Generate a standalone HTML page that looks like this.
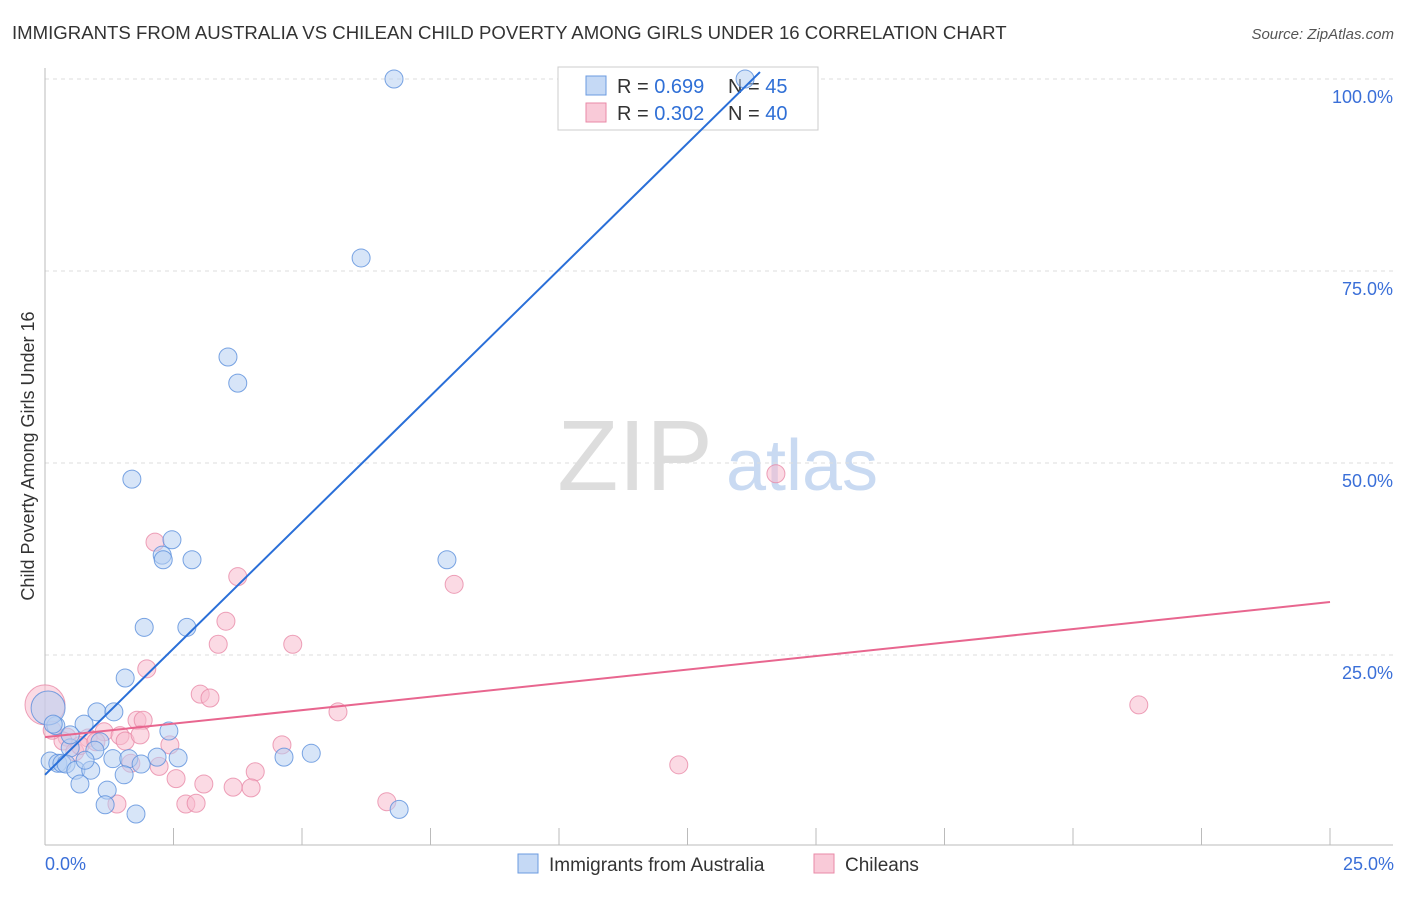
<!DOCTYPE html>
<html><head><meta charset="utf-8"><style>
body{margin:0;background:#fff;font-family:"Liberation Sans",sans-serif}
svg text{font-family:"Liberation Sans",sans-serif}
</style></head><body>
<svg width="1406" height="892" xmlns="http://www.w3.org/2000/svg">
<text x="12" y="39" font-size="18.6" fill="#333">IMMIGRANTS FROM AUSTRALIA VS CHILEAN CHILD POVERTY AMONG GIRLS UNDER 16 CORRELATION CHART</text>
<text x="1394" y="39" font-size="15" fill="#555" font-style="italic" text-anchor="end">Source: ZipAtlas.com</text>
<g>
<text x="635" y="490" font-size="100" font-family="Liberation Serif" fill="#ddd" text-anchor="middle">ZIP</text>
<text x="802" y="490" font-size="72" fill="#c9daf2" text-anchor="middle">atlas</text>
</g>
<g id="grid"></g>
<g id="axes"></g>
<g>
<rect x="558" y="67" width="260" height="63" fill="#fff" stroke="#ccc"/>
<rect x="586" y="76" width="20" height="19" fill="#c5d9f5" stroke="#6b9be0"/>
<rect x="586" y="103" width="20" height="19" fill="#f9cad8" stroke="#e98aa7"/>
<text x="617" y="93" font-size="20" fill="#333">R = <tspan fill="#2f6fd6">0.699</tspan></text>
<text x="728" y="93" font-size="20" fill="#333">N = <tspan fill="#2f6fd6">45</tspan></text>
<text x="617" y="120" font-size="20" fill="#333">R = <tspan fill="#2f6fd6">0.302</tspan></text>
<text x="728" y="120" font-size="20" fill="#333">N = <tspan fill="#2f6fd6">40</tspan></text>
</g>
<g id="marks"></g>
<text transform="translate(34,456) rotate(-90)" font-size="18" fill="#333" text-anchor="middle">Child Poverty Among Girls Under 16</text>
<text x="45" y="870" font-size="18" fill="#3a6fd8">0.0%</text>
<text x="1394" y="870" font-size="18" fill="#3a6fd8" text-anchor="end">25.0%</text>
<g>
<rect x="518" y="854" width="20" height="19" fill="#c5d9f5" stroke="#6b9be0"/>
<text x="549" y="871" font-size="19" fill="#333">Immigrants from Australia</text>
<rect x="814" y="854" width="20" height="19" fill="#f9cad8" stroke="#e98aa7"/>
<text x="845" y="871" font-size="19" fill="#333">Chileans</text>
</g>
</svg>
<script>
const blueX=[6.79,6.15,3.56,3.75,1.69,2.47,2.28,2.30,2.86,7.82,1.93,2.76,1.56,1.01,1.34,2.41,0.76,0.21,1.07,0.49,1.32,1.63,2.18,2.59,1.87,0.10,0.25,0.33,0.41,0.60,0.89,1.54,0.68,1.21,1.17,1.77,4.65,5.18,6.89,13.62,0.06,0.16,0.97,0.78,0.49];
const blueY=[100,76.7,63.8,60.4,47.9,40.0,38.0,37.4,37.4,37.4,28.6,28.6,22.0,17.6,17.6,15.1,16.0,15.8,13.7,12.9,11.5,11.5,11.7,11.6,10.8,11.2,10.9,10.9,10.8,10.0,10.0,9.4,8.2,7.4,5.5,4.3,11.7,12.2,4.9,100,18.1,16.0,12.6,11.3,14.6];
const blueR=[9,9,9,9,9,9,9,9,9,9,9,9,9,9,9,9,9,9,9,9,9,9,9,9,9,9,9,9,9,9,9,9,9,9,9,9,9,9,9,9,17,9,9,9,9];
const pinkX=[2.14,3.75,7.96,14.22,3.52,3.37,4.82,1.98,3.02,3.21,5.70,21.28,1.79,1.91,1.15,1.46,0.43,0.84,0.35,1.56,2.43,4.61,0.58,1.67,2.22,4.09,2.55,3.09,3.66,4.01,2.74,2.94,1.40,6.65,12.33,0,0.14,0.68,0.99,1.85];
const pinkY=[39.7,35.2,34.2,48.6,29.4,26.4,26.4,23.2,19.9,19.4,17.6,18.5,16.5,16.5,15.0,14.5,14.3,14.2,13.8,13.8,13.3,13.3,12.4,10.9,10.5,9.8,8.9,8.2,7.8,7.7,5.6,5.7,5.6,5.9,10.7,18.5,15.2,13.2,13.7,14.6];
const pinkR=[9,9,9,9,9,9,9,9,9,9,9,9,9,9,9,9,9,9,9,9,9,9,9,9,9,9,9,9,9,9,9,9,9,9,9,20,9,9,9,9];
const blueTrend=[[0,9.4],[13.91,100.9]];
const pinkTrend=[[0,14.3],[25,31.9]];
const yTicks=[25,50,75,100];
const yTickLabels=["25.0%","50.0%","75.0%","100.0%"];
const xTicks=[2.5,5,7.5,10,12.5,15,17.5,20,22.5,25];
const X=v=>45+v*51.4, Y=v=>847-v*7.68;
const NS="http://www.w3.org/2000/svg";
function mk(tag,attrs,parent){const e=document.createElementNS(NS,tag);for(const k in attrs)e.setAttribute(k,attrs[k]);parent.appendChild(e);return e;}
const grid=document.getElementById('grid'),axes=document.getElementById('axes'),marks=document.getElementById('marks');
yTicks.forEach((t,i)=>{
 const l=mk('line',{x1:45,x2:1393,y1:Y(t),y2:Y(t),stroke:'#ddd','stroke-dasharray':'4,4'},grid);
 
 
 const tx=mk('text',{x:1393,y:Y(t)+24,'font-size':18,fill:'#3a6fd8','text-anchor':'end'},grid);
 tx.textContent=yTickLabels[i];
 
 
});
const ya=mk('line',{x1:45,x2:45,y1:68,y2:845,stroke:'#bbb'},axes);


const xa=mk('line',{x1:45,x2:1393,y1:845,y2:845,stroke:'#bbb'},axes);


xTicks.forEach(t=>{
 const l=mk('line',{x1:X(t),x2:X(t),y1:828,y2:845,stroke:'#bbb'},axes);
 
 
});
function dots(xs,ys,rs,fill,stroke,name){
 xs.forEach((x,i)=>{
  const c=mk('circle',{cx:X(x),cy:Y(ys[i]),r:rs[i],fill:fill,'fill-opacity':0.55,stroke:stroke,'stroke-opacity':0.8,'stroke-width':1},marks);
  
  
 });
}
dots(pinkX,pinkY,pinkR,'#f7bccd','#e88aa7','chilean-point');
dots(blueX,blueY,blueR,'#b7d0f2','#5a8fdc','australia-point');
const bl=mk('line',{x1:X(blueTrend[0][0]),y1:Y(blueTrend[0][1]),x2:X(blueTrend[1][0]),y2:Y(blueTrend[1][1]),stroke:'#2a6fd8','stroke-width':2},marks);


const pl=mk('line',{x1:X(pinkTrend[0][0]),y1:Y(pinkTrend[0][1]),x2:X(pinkTrend[1][0]),y2:Y(pinkTrend[1][1]),stroke:'#e8668f','stroke-width':2},marks);


</script>
</body></html>
